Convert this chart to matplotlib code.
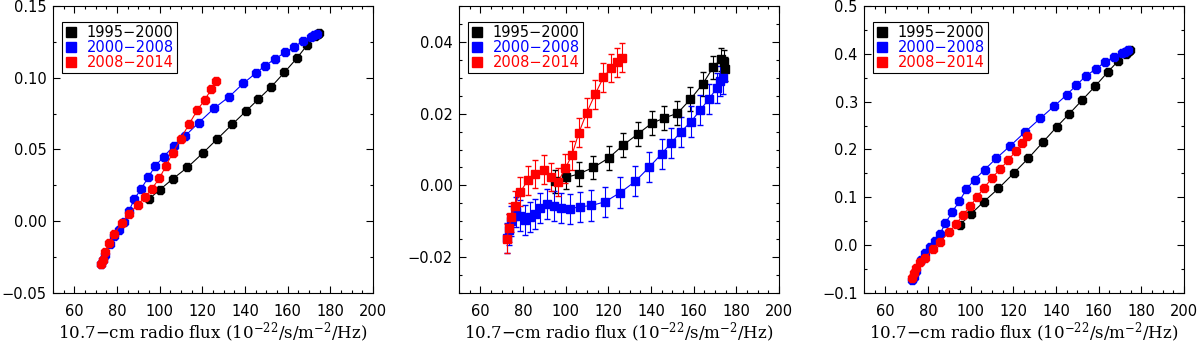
import matplotlib
matplotlib.use('Agg')
import matplotlib.pyplot as plt
from matplotlib.lines import Line2D
from matplotlib.ticker import MultipleLocator, FuncFormatter

plt.rcParams['font.family'] = 'DejaVu Sans'
plt.rcParams['mathtext.fontset'] = 'dejavuserif'

labels = ['1995\u22122000', '2000\u22122008', '2008\u22122014']
colors = ['black', 'blue', 'red']

# F10.7 bins for each period
x_black = [95.0, 100.1, 106.2, 113.0, 120.1, 127.1, 134.0, 140.3, 146.3, 152.4,
           158.5, 164.3, 169.1, 172.6, 174.1, 174.6]
x_blue = [72.5, 73.5, 74.5, 76.9, 78.5, 80.8, 83.2, 85.5, 88.2, 91.3, 94.7, 98.0,
          101.8, 106.6, 112.1, 118.4, 125.6, 132.6, 139.2, 145.0, 149.4, 153.9,
          158.8, 163.1, 167.2, 170.8, 172.5, 173.8]
x_red = [72.5, 73.3, 74.6, 76.1, 78.8, 82.2, 85.8, 89.7, 93.3, 96.3, 99.9, 102.9,
         106.2, 109.9, 113.8, 117.7, 121.2, 124.2, 126.5]

# left panel
p1_black = [0.0155, 0.0220, 0.0296, 0.0375, 0.0473, 0.0575, 0.0675, 0.0765, 0.0851,
            0.0938, 0.1038, 0.1136, 0.1227, 0.1292, 0.1308, 0.1315]
p1_blue = [-0.0295, -0.0270, -0.0235, -0.0160, -0.0104, -0.0058, -0.0007, 0.0069,
           0.0156, 0.0225, 0.0308, 0.0387, 0.0447, 0.0526, 0.0597, 0.0688, 0.0788,
           0.0868, 0.0961, 0.1031, 0.1083, 0.1130, 0.1176, 0.1215, 0.1257, 0.1285,
           0.1296, 0.1308]
p1_red = [-0.0298, -0.0270, -0.0215, -0.0155, -0.0088, -0.0011, 0.0053, 0.0116,
          0.0169, 0.0225, 0.0300, 0.0385, 0.0478, 0.0575, 0.0678, 0.0775, 0.0848,
          0.0919, 0.0977]

# middle panel
p2_black = [0.0011, 0.0022, 0.0032, 0.0050, 0.0076, 0.0113, 0.0144, 0.0173, 0.0188,
            0.0201, 0.0240, 0.0283, 0.0329, 0.0351, 0.0345, 0.0325]
p2_blue = [-0.0146, -0.0123, -0.0100, -0.0075, -0.0084, -0.0097, -0.0089, -0.0080,
           -0.0064, -0.0051, -0.0058, -0.0063, -0.0065, -0.0060, -0.0056, -0.0046,
           -0.0020, 0.0011, 0.0051, 0.0088, 0.0118, 0.0148, 0.0178, 0.0210, 0.0241,
           0.0271, 0.0290, 0.0298]
p2_red = [-0.0149, -0.0119, -0.0089, -0.0057, -0.0018, 0.0014, 0.0032, 0.0044,
          0.0023, 0.0009, 0.0048, 0.0084, 0.0147, 0.0203, 0.0254, 0.0301, 0.0327,
          0.0343, 0.0356]
p2_err = [0.0033, 0.0042, 0.0040]

# right panel
p3_black = [0.0425, 0.0650, 0.0910, 0.1185, 0.1500, 0.1820, 0.2160, 0.2470, 0.2750,
            0.3040, 0.3330, 0.3620, 0.3850, 0.3990, 0.4050, 0.4080]
p3_blue = [-0.072, -0.066, -0.055, -0.030, -0.016, -0.004, 0.008, 0.023, 0.046,
           0.069, 0.092, 0.117, 0.137, 0.158, 0.182, 0.207, 0.237, 0.265, 0.291,
           0.314, 0.334, 0.353, 0.369, 0.383, 0.394, 0.401, 0.404, 0.407]
p3_red = [-0.068, -0.058, -0.047, -0.036, -0.026, -0.008, 0.007, 0.027, 0.044,
          0.063, 0.081, 0.101, 0.119, 0.140, 0.159, 0.178, 0.197, 0.213, 0.229]

xs = [x_black, x_blue, x_red]
panels = [
    ([p1_black, p1_blue, p1_red], None, (-0.05, 0.15), 0.05, 0.025, '{:.2f}'),
    ([p2_black, p2_blue, p2_red], p2_err, (-0.03, 0.05), 0.02, 0.005, '{:.2f}'),
    ([p3_black, p3_blue, p3_red], None, (-0.1, 0.5), 0.1, 0.05, '{:.1f}'),
]
lefts = [53, 459, 864]


def make_fmt(f):
    def fmt(v, pos):
        s = f.format(v)
        if s.startswith('-') and float(s) == 0:
            s = s[1:]
        return s.replace('-', '\u2212')
    return FuncFormatter(fmt)


fig = plt.figure(figsize=(12, 3.43), dpi=100)

for (ys, errs, ylim, major, minor, fmt), left in zip(panels, lefts):
    ax = fig.add_axes([left / 1200, 50 / 343, 320 / 1200, 287 / 343])
    for i in range(3):
        if errs is None:
            ax.plot(xs[i], ys[i], color=colors[i], lw=0.8, marker='8', ms=6)
        else:
            ax.errorbar(xs[i], ys[i], yerr=errs[i], color=colors[i], lw=0.8,
                        marker='s', ms=6.3, elinewidth=0.8, capsize=2.5)
    ax.set_xlim(50, 200)
    ax.set_ylim(*ylim)
    ax.xaxis.set_major_locator(MultipleLocator(20))
    ax.xaxis.set_minor_locator(MultipleLocator(5))
    ax.yaxis.set_major_locator(MultipleLocator(major))
    ax.yaxis.set_minor_locator(MultipleLocator(minor))
    ax.yaxis.set_major_formatter(make_fmt(fmt))
    ax.set_xticks([60, 80, 100, 120, 140, 160, 180, 200])
    ax.tick_params(which='both', direction='in', top=True, right=True, labelsize=10.5)
    ax.tick_params(which='major', length=5, width=0.8)
    ax.tick_params(which='minor', length=2.5, width=0.8)
    ax.tick_params(axis='x', pad=8)
    ax.tick_params(axis='y', pad=4.5)
    ax.set_xlabel(r'10.7$-$cm radio flux (10$^{-22}$/s/m$^{-2}$/Hz)',
                  fontfamily='DejaVu Serif', fontsize=12, labelpad=1)
    handles = [Line2D([], [], color=c, marker='s', ls='none', ms=6.5) for c in colors]
    leg = ax.legend(handles, labels, loc='upper left', bbox_to_anchor=(0.028, 0.944),
                    borderaxespad=0, fontsize=10.5, handlelength=0.8, handletextpad=0.7,
                    borderpad=0.2, labelspacing=0.0, fancybox=False, framealpha=1,
                    edgecolor='black')
    leg.get_frame().set_linewidth(0.8)
    for t, c in zip(leg.get_texts(), colors):
        t.set_color(c)

fig.savefig('out.png', dpi=100)
